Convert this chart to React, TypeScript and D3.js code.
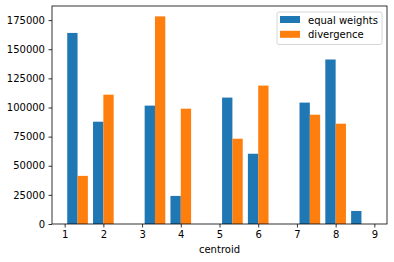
import * as React from 'react';
import { useEffect, useRef } from 'react';
import * as d3 from 'd3';

// histogram counts per bin (12 bins between 1 and 9)
const equalWeights = [164000, 87800, 0, 101600, 24100, 0, 108500, 60300, 0, 104200, 141200, 11200];
const divergence = [41300, 111000, 0, 178200, 99000, 0, 73200, 118800, 0, 93800, 86100, 0];
const seriesNames = ['equal weights', 'divergence'];
const xTicks = [1, 2, 3, 4, 5, 6, 7, 8, 9];
const yTicks = [0, 25000, 50000, 75000, 100000, 125000, 150000, 175000];

const binLow = 1;
const binHigh = 9;
const colors = ['#1f77b4', '#ff7f0e'];

export default function App() {
    const svgRef = useRef<SVGSVGElement>(null);

    useEffect(() => {
        if (!svgRef.current) return;
        const width = 394;
        const height = 262;
        const margin = { top: 6, right: 7, bottom: 38, left: 52 };

        const svg = d3.select(svgRef.current);
        svg.selectAll('*').remove();

        const nBins = equalWeights.length;
        const binW = (binHigh - binLow) / nBins;
        const barW = (binW * 0.8) / 2;

        const bins = d3.range(nBins).map(i => ({
            start: binLow + i * binW + binW * 0.1,
            values: [equalWeights[i], divergence[i]],
        }));

        // matplotlib style 5% margins on data extent
        const x0 = bins[0].start;
        const x1 = bins[nBins - 1].start + 2 * barW;
        const pad = (x1 - x0) * 0.05;
        const yMax = d3.max([...equalWeights, ...divergence]) as number;

        const x = d3.scaleLinear()
            .domain([x0 - pad, x1 + pad])
            .range([margin.left, width - margin.right]);
        const y = d3.scaleLinear()
            .domain([0, yMax * 1.05])
            .range([height - margin.bottom, margin.top]);

        const g = svg.append('g');

        // bars
        bins.forEach(b => {
            b.values.forEach((v, s) => {
                if (v <= 0) return;
                g.append('rect')
                    .attr('x', x(b.start + s * barW))
                    .attr('y', y(v))
                    .attr('width', x(b.start + (s + 1) * barW) - x(b.start + s * barW))
                    .attr('height', y(0) - y(v))
                    .attr('fill', colors[s]);
            });
        });

        // axes
        const xAxis = d3.axisBottom(x).tickValues(xTicks).tickSize(3.5).tickPadding(3.5).tickFormat(d3.format('d'));
        const yAxis = d3.axisLeft(y).tickValues(yTicks).tickSize(3.5).tickPadding(3.5).tickFormat(d3.format('d'));

        const gx = svg.append('g')
            .attr('transform', `translate(0,${height - margin.bottom})`)
            .call(xAxis);
        const gy = svg.append('g')
            .attr('transform', `translate(${margin.left},0)`)
            .call(yAxis);

        [gx, gy].forEach(a => {
            a.select('.domain').remove();
            a.selectAll('.tick line').attr('stroke', '#000').attr('stroke-width', 0.8);
            a.selectAll('.tick text')
                .attr('font-size', '10px')
                .attr('font-family', '"DejaVu Sans", sans-serif')
                .attr('fill', '#000');
        });

        // frame
        svg.append('rect')
            .attr('x', margin.left)
            .attr('y', margin.top)
            .attr('width', width - margin.left - margin.right)
            .attr('height', height - margin.top - margin.bottom)
            .attr('fill', 'none')
            .attr('stroke', '#000')
            .attr('stroke-width', 0.8);

        // x label
        svg.append('text')
            .attr('x', (margin.left + width - margin.right) / 2)
            .attr('y', 253)
            .attr('text-anchor', 'middle')
            .attr('font-size', '10px')
            .attr('font-family', '"DejaVu Sans", sans-serif')
            .text('centroid');

        // legend
        const lg = svg.append('g').attr('transform', 'translate(277,12)');
        lg.append('rect')
            .attr('width', 105)
            .attr('height', 32.5)
            .attr('rx', 2)
            .attr('fill', '#fff')
            .attr('fill-opacity', 0.8)
            .attr('stroke', '#ccc')
            .attr('stroke-width', 0.8);
        seriesNames.forEach((name, i) => {
            lg.append('rect')
                .attr('x', 3)
                .attr('y', 4 + i * 14.8)
                .attr('width', 20)
                .attr('height', 7)
                .attr('fill', colors[i]);
            lg.append('text')
                .attr('x', 31)
                .attr('y', 11.5 + i * 14.8)
                .attr('font-size', '10px')
                .attr('font-family', '"DejaVu Sans", sans-serif')
                .text(name);
        });
    }, []);

    return (
        <svg ref={svgRef} width={394} height={262}
            style={{ position: 'absolute', left: 0, top: 0, background: '#fff' }}></svg>
    );
}
